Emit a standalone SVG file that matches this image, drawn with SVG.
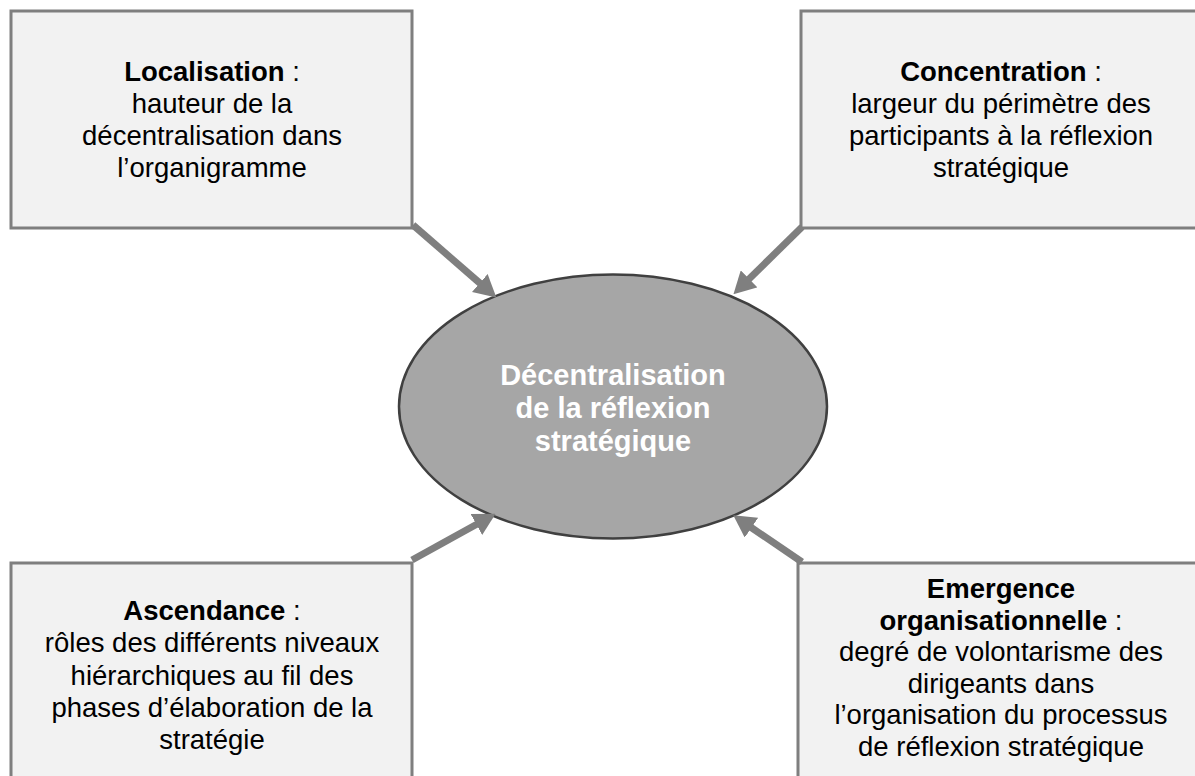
<svg xmlns="http://www.w3.org/2000/svg" width="1195" height="776" viewBox="0 0 1195 776">
<style>
.box{fill:#f2f2f2;stroke:#7f7f7f;stroke-width:3}
.t{font-family:"Liberation Sans",Arial,sans-serif;font-size:27.5px;fill:#000;text-anchor:middle}
.b{font-weight:bold}
.ct{font-family:"Liberation Sans",Arial,sans-serif;font-size:29px;font-weight:bold;fill:#fff;text-anchor:middle}
.arr{stroke:#7f7f7f;stroke-width:7;fill:none;marker-end:url(#ah)}
</style>
<defs>
<marker id="ah" markerUnits="userSpaceOnUse" viewBox="0 0 22 24" markerWidth="22" markerHeight="24" refX="3" refY="12" orient="auto">
<path d="M0,0 L22,12 L0,24 z" fill="#7f7f7f"/>
</marker>
</defs>
<rect width="1195" height="776" fill="#fff"/>
<g id="center">
<ellipse cx="613" cy="406.5" rx="214" ry="132" fill="#a6a6a6" stroke="#404040" stroke-width="2.5"/>
<text class="ct" x="613" y="385">Décentralisation</text>
<text class="ct" x="613" y="418">de la réflexion</text>
<text class="ct" x="613" y="451">stratégique</text>
</g>
<g id="localisation">
<rect class="box" x="11" y="11" width="401" height="217"/>
<text class="t" x="212" y="81"><tspan class="b">Localisation</tspan> :</text>
<text class="t" x="212" y="113">hauteur de la</text>
<text class="t" x="212" y="145">décentralisation dans</text>
<text class="t" x="212" y="177">l’organigramme</text>
</g>
<g id="concentration">
<rect class="box" x="801" y="11" width="401" height="217"/>
<text class="t" x="1001" y="81"><tspan class="b">Concentration</tspan> :</text>
<text class="t" x="1001" y="113">largeur du périmètre des</text>
<text class="t" x="1001" y="145">participants à la réflexion</text>
<text class="t" x="1001" y="177">stratégique</text>
</g>
<g id="ascendance">
<rect class="box" x="11" y="563" width="401" height="220"/>
<text class="t" x="212" y="620"><tspan class="b">Ascendance</tspan> :</text>
<text class="t" x="212" y="652">rôles des différents niveaux</text>
<text class="t" x="212" y="684.5">hiérarchiques au fil des</text>
<text class="t" x="212" y="717">phases d’élaboration de la</text>
<text class="t" x="212" y="749">stratégie</text>
</g>
<g id="emergence">
<rect class="box" x="798" y="563" width="406" height="220"/>
<text class="t b" x="1001" y="598">Emergence</text>
<text class="t" x="1001" y="629.6"><tspan class="b">organisationnelle</tspan> :</text>
<text class="t" x="1001" y="661.2">degré de volontarisme des</text>
<text class="t" x="1001" y="692.8">dirigeants dans</text>
<text class="t" x="1001" y="724.4">l’organisation du processus</text>
<text class="t" x="1001" y="756">de réflexion stratégique</text>
</g>
<g id="connectors">
<line class="arr" x1="413" y1="225" x2="482" y2="285"/>
<line class="arr" x1="802" y1="227" x2="747" y2="281"/>
<line class="arr" x1="412" y1="560" x2="479" y2="523"/>
<line class="arr" x1="802" y1="562" x2="749" y2="526"/>
</g>
</svg>
